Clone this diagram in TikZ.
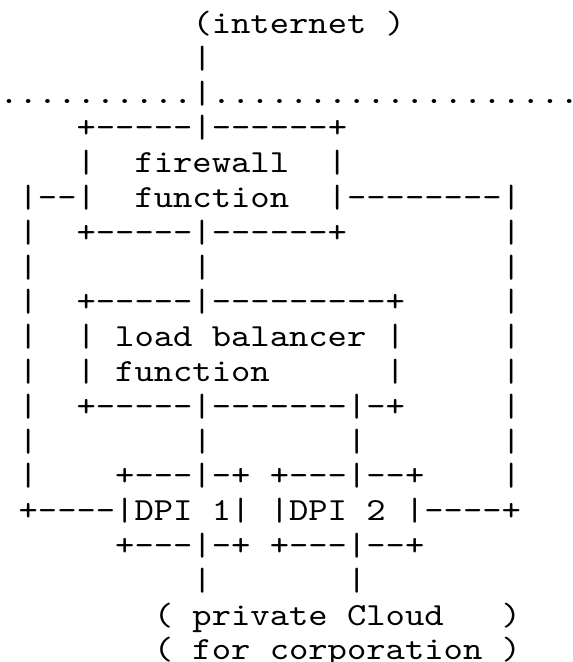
\documentclass[tikz,border=0pt]{standalone}
\usepackage{fontspec}
\setmonofont{lmmono10-regular.otf}[FakeStretch=1.143]
\tikzset{asciirow/.style={anchor=base west, inner sep=0pt, outer sep=0pt,
  font=\fontsize{32.2pt}{34.8pt}\selectfont\ttfamily}}
\begin{document}
\begin{tikzpicture}
\useasboundingbox (0,0) rectangle (573pt,-662pt);
\node[asciirow] (l1)  at (-0.7pt,-33.4pt)  {~~~~~~~~~~(internet~)};
\node[asciirow] (l2)  at (-0.7pt,-68.2pt)  {~~~~~~~~~~|};
\node[asciirow] (l3)  at (-0.7pt,-103.0pt) {..........|...................};
\node[asciirow] (l4)  at (-0.7pt,-137.8pt) {~~~~+-----|------+};
\node[asciirow] (l5)  at (-0.7pt,-172.6pt) {~~~~|~~firewall~~|};
\node[asciirow] (l6)  at (-0.7pt,-207.4pt) {~|--|~~function~~|--------|};
\node[asciirow] (l7)  at (-0.7pt,-242.2pt) {~|~~+-----|------+~~~~~~~~|};
\node[asciirow] (l8)  at (-0.7pt,-277.0pt) {~|~~~~~~~~|~~~~~~~~~~~~~~~|};
\node[asciirow] (l9)  at (-0.7pt,-311.8pt) {~|~~+-----|---------+~~~~~|};
\node[asciirow] (l10) at (-0.7pt,-346.6pt) {~|~~|~load~balancer~|~~~~~|};
\node[asciirow] (l11) at (-0.7pt,-381.4pt) {~|~~|~function~~~~~~|~~~~~|};
\node[asciirow] (l12) at (-0.7pt,-416.2pt) {~|~~+-----|-------|-+~~~~~|};
\node[asciirow] (l13) at (-0.7pt,-451.0pt) {~|~~~~~~~~|~~~~~~~|~~~~~~~|};
\node[asciirow] (l14) at (-0.7pt,-485.8pt) {~|~~~~+---|-+~+---|--+~~~~|};
\node[asciirow] (l15) at (-0.7pt,-520.6pt) {~+----|DPI~1|~|DPI~2~|----+};
\node[asciirow] (l16) at (-0.7pt,-555.4pt) {~~~~~~+---|-+~+---|--+};
\node[asciirow] (l17) at (-0.7pt,-590.2pt) {~~~~~~~~~~|~~~~~~~|};
\node[asciirow] (l18) at (-0.7pt,-625.0pt) {~~~~~~~~(~private~Cloud~~~)};
\node[asciirow] (l19) at (-0.7pt,-659.8pt) {~~~~~~~~(~for~corporation~)};
\end{tikzpicture}
\end{document}
